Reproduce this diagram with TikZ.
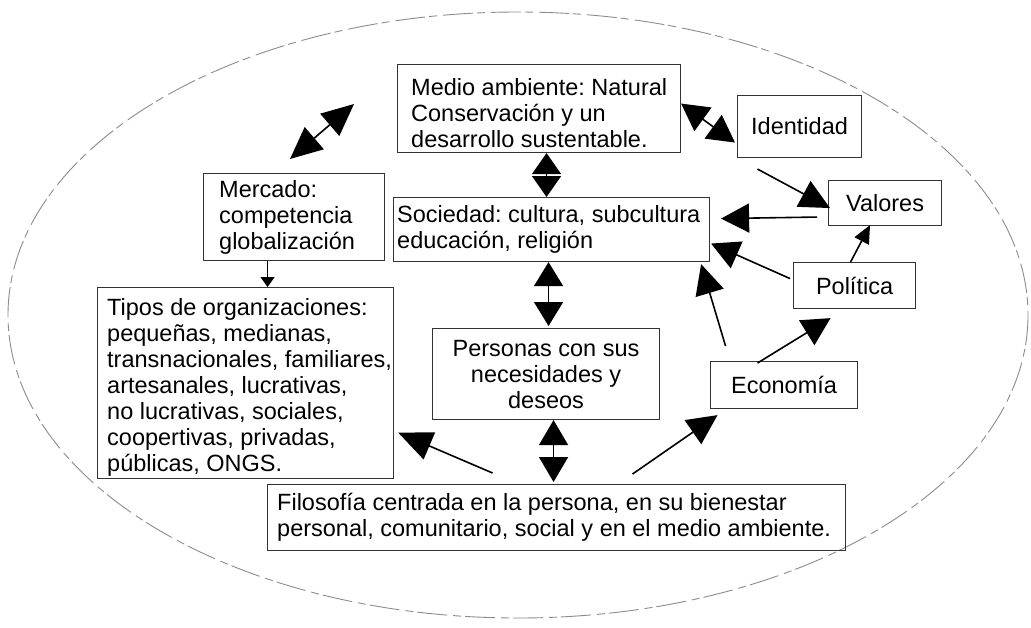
\documentclass[tikz,border=0pt]{standalone}
\usepackage{fontspec}
\setmainfont{Liberation Sans}
\usetikzlibrary{arrows.meta}
\frenchspacing
\begin{document}
\begin{tikzpicture}[x=1pt,y=-1pt,
  box/.style={draw=black!80,line width=1.1pt,inner sep=0pt,anchor=north west},
  txt/.style={inner sep=0pt,align=left,font=\fontsize{23.5}{26}\selectfont},
  ctxt/.style={inner sep=0pt,align=center,font=\fontsize{23.5}{26}\selectfont},
  conn/.style={line width=1.6pt,-{Triangle[length=#1,width=29pt]}},
  conn/.default=27pt,
  dconn/.style={line width=1.6pt,{Triangle[length=#1,width=29pt]}-{Triangle[length=#1,width=29pt]}},
  dconn/.default=24pt,
  oval/.style={draw=black!45,line width=0.9pt,dash pattern=on 30pt off 4pt on 8pt off 6pt}
]
\useasboundingbox (0,0) rectangle (1031,627);
\fill[white] (0,0) rectangle (1031,627);

\draw[oval] (518,315) ellipse [x radius=510, y radius=303];

% boxes
\node[box,minimum width=283pt,minimum height=88pt] (med) at (397,64) {};
\node[box,minimum width=124pt,minimum height=62pt] (idn) at (737,95) {};
\node[box,minimum width=113pt,minimum height=45pt] (val) at (828,180) {};
\node[box,minimum width=122pt,minimum height=46pt] (pol) at (793,262) {};
\node[box,minimum width=147pt,minimum height=47pt] (eco) at (710,361) {};
\node[box,minimum width=316pt,minimum height=64pt] (soc) at (393,197) {};
\node[box,minimum width=181pt,minimum height=87pt] (mer) at (203,173) {};
\node[box,minimum width=296pt,minimum height=191pt] (tip) at (97,287) {};
\node[box,minimum width=227pt,minimum height=91pt] (per) at (432,328) {};
\node[box,minimum width=578pt,minimum height=66pt] (fil) at (267,484) {};

% texts
\node[txt,anchor=west] (medt) at ([xshift=14pt,yshift=-5pt]med.west)
  {Medio ambiente: Natural\\Conservación y un\\desarrollo sustentable.};
\node[ctxt] (idnt) at (idn.center) {Identidad};
\node[ctxt] (valt) at (val.center) {Valores};
\node[ctxt] (polt) at (pol.center) {Política};
\node[ctxt] (ecot) at (eco.center) {Economía};
\node[txt,anchor=west] (soct) at ([xshift=4pt]soc.west)
  {Sociedad: cultura, subcultura\\educación, religión};
\node[txt,anchor=west] (mert) at ([xshift=16pt]mer.west)
  {Mercado:\\competencia\\globalización};
\node[txt,anchor=west] (tipt) at ([xshift=10pt,yshift=-4pt]tip.west)
  {Tipos de organizaciones:\\pequeñas, medianas,\\transnacionales, familiares,\\artesanales, lucrativas,\\no lucrativas, sociales,\\coopertivas, privadas,\\públicas, ONGS.};
\node[ctxt] (pert) at (per.center)
  {Personas con sus\\necesidades y\\deseos};
\node[txt,anchor=west] (filt) at ([xshift=10pt]fil.west)
  {Filosofía centrada en la persona, en su bienestar\\personal, comunitario, social y en el medio ambiente.};

% free ends
\coordinate (tl1) at (290,159);
\coordinate (tl2) at (354,104);

% connectors
\draw[dconn=32pt] (tl1) -- (tl2);
\draw[dconn=21pt] ([xshift=7.5pt]med.south) -- ([xshift=-5pt]soc.north);
\draw[dconn=27pt] ([yshift=5pt]med.east) -- ([xshift=-2pt,yshift=-16pt]idn.west);
\draw[conn=30pt] ([xshift=-42pt,yshift=-11pt]idn.south) -- ([xshift=2pt,yshift=-5pt]val.west);
\draw[conn=28pt] ([xshift=-11pt,yshift=-14pt]val.west) -- ([xshift=11pt,yshift=11pt]soc.east);
\draw[line width=1.6pt,-{Triangle[length=18pt,width=16pt]}] ([xshift=-4pt]pol.north) -- ([xshift=-15pt,yshift=1pt]val.south);
\draw[conn=28pt] ([xshift=-3pt,yshift=7pt]pol.west) -- ([xshift=1pt,yshift=-14pt]soc.east);
\draw[conn=30pt] ([xshift=-58.5pt,yshift=15pt]eco.north) -- ([xshift=-9pt,yshift=-2pt]soc.south east);
\draw[conn=28pt] ([xshift=-26.5pt,yshift=-2pt]eco.north) -- ([xshift=-24pt,yshift=-9pt]pol.south);
\draw[conn=30pt] ([xshift=76pt,yshift=10pt]fil.north) -- ([xshift=-66.5pt,yshift=-6pt]eco.south);
\draw[conn=34pt] ([xshift=-64pt,yshift=11pt]fil.north) -- ([xshift=4pt,yshift=-49.5pt]tip.east);
\draw[dconn=24pt] ([xshift=-3pt]soc.south) -- ([xshift=2.5pt,yshift=2pt]per.north);
\draw[dconn=25pt] ([xshift=7.5pt]per.south) -- ([xshift=-3pt,yshift=2pt]fil.north);
\draw[line width=1.2pt,-{Triangle[length=10pt,width=14pt]}] ([xshift=-26.5pt]mer.south) -- ([xshift=22pt]tip.north);
\end{tikzpicture}
\end{document}
